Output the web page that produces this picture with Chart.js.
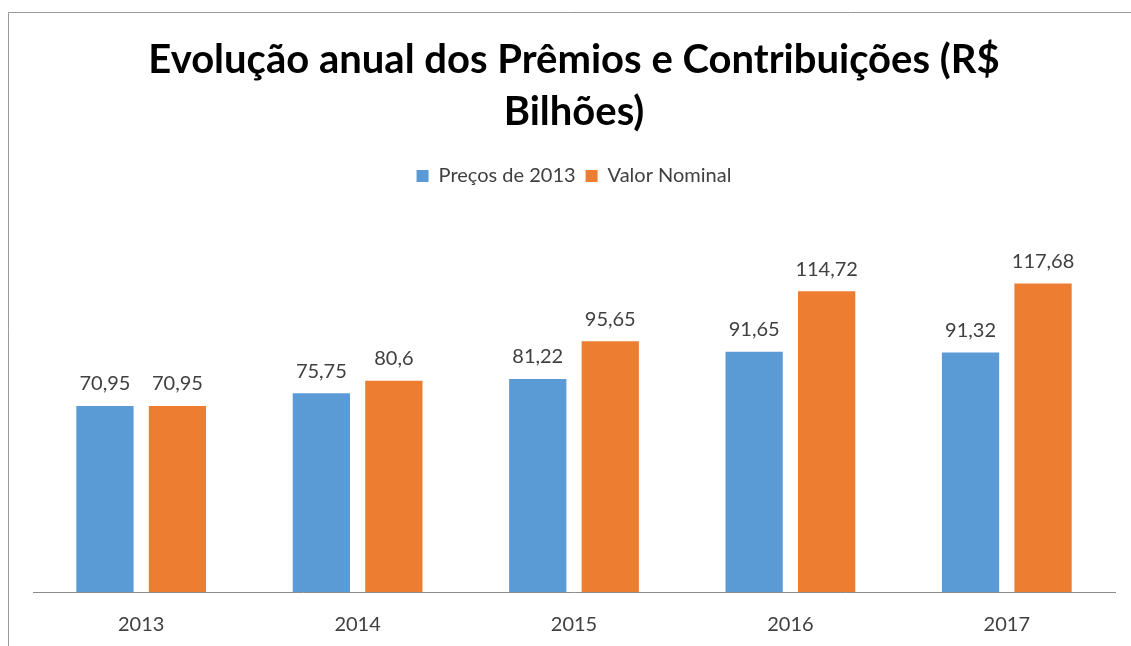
<!DOCTYPE html>
<html>
<head>
<meta charset="utf-8">
<script src="https://cdn.jsdelivr.net/npm/chart.js@4"></script>
<style>
  html, body { margin: 0; padding: 0; background: #fff; overflow: hidden; }
  #box { position: relative; width: 1131px; height: 646px; }
</style>
</head>
<body>
<div id="box"><canvas id="myChart"></canvas></div>
<script>
const anos = ["2013", "2014", "2015", "2016", "2017"];
const precos2013 = [70.95, 75.75, 81.22, 91.65, 91.32];
const valorNominal = [70.95, 80.6, 95.65, 114.72, 117.68];

const fonte = "Lato, 'Open Sans', sans-serif";

// moldura cinza (só esquerda e topo, como no print)
const moldura = {
  id: "moldura",
  beforeDraw(chart) {
    const c = chart.ctx;
    c.save();
    c.strokeStyle = "#999";
    c.lineWidth = 1;
    c.beginPath();
    c.moveTo(8.5, chart.height);
    c.lineTo(8.5, 12.5);
    c.lineTo(chart.width, 12.5);
    c.stroke();
    c.restore();
  },
};

// rótulos em cima das barras
const rotulos = {
  id: "rotulos",
  afterDatasetsDraw(chart) {
    const c = chart.ctx;
    c.save();
    c.font = "20px " + fonte;
    c.fillStyle = "#404040";
    c.textAlign = "center";
    c.textBaseline = "bottom";
    chart.data.datasets.forEach((ds, i) => {
      chart.getDatasetMeta(i).data.forEach((bar, j) => {
        c.fillText(String(ds.data[j]).replace(".", ","), bar.x, bar.y - 12);
      });
    });
    c.restore();
  },
};

const ctx = document.getElementById("myChart");

new Chart(ctx, {
  type: "bar",
  data: {
    labels: anos,
    datasets: [
      {
        label: "Preços de 2013",
        data: precos2013,
        backgroundColor: "#5B9BD5",
        categoryPercentage: 0.67,
        barPercentage: 0.79,
      },
      {
        label: "Valor Nominal",
        data: valorNominal,
        backgroundColor: "#ED7D31",
        categoryPercentage: 0.67,
        barPercentage: 0.79,
      },
    ],
  },
  options: {
    responsive: true,
    maintainAspectRatio: false,
    animation: false,
    layout: {
      padding: { left: 33, right: 16, top: 0, bottom: 9 },
    },
    scales: {
      x: {
        grid: { display: false, drawTicks: false },
        border: { display: true, color: "#8c8c8c", width: 1 },
        ticks: { color: "#404040", font: { family: fonte, size: 20 }, padding: 21 },
        afterFit: (scale) => { scale.height = 45; },
      },
      y: {
        display: false,
        min: 0,
        max: 151,
      },
    },
    plugins: {
      title: {
        display: true,
        text: ["Evolução anual dos Prêmios e Contribuições (R$", "Bilhões)"],
        color: "#000",
        font: { family: fonte, size: 40, weight: "bold", lineHeight: 1.3 },
        padding: { top: 34, bottom: 18 },
      },
      legend: {
        display: true,
        labels: {
          color: "#404040",
          font: { family: fonte, size: 20 },
          boxWidth: 12,
          boxHeight: 12,
          padding: 10,
        },
      },
      tooltip: { enabled: false },
    },
  },
  plugins: [moldura, rotulos],
});
</script>
</body>
</html>
